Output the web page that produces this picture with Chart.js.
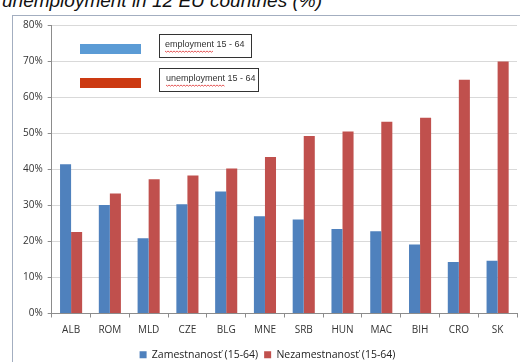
<!DOCTYPE html>
<html>
<head>
<meta charset="utf-8">
<script src="https://cdn.jsdelivr.net/npm/chart.js@4.4.1/dist/chart.umd.min.js"></script>
<style>
  html, body { margin: 0; padding: 0; background: #fff; }
  #wrap { position: relative; width: 520px; height: 362px; overflow: hidden; }
  #title { position: absolute; left: 2px; top: -10px; font: italic 19px "Liberation Sans", Arial, sans-serif; color: #111; white-space: nowrap; }
  #frame { position: absolute; left: 12px; top: 15px; width: 540px; height: 400px; border: 1.5px solid #a3aec0; box-sizing: border-box; }
  #chart { position: absolute; left: 0; top: 0; }
</style>
</head>
<body>
<div id="wrap">
  <div id="title">unemployment in 12 EU countries (%)</div>
  <div id="frame"></div>
  <canvas id="chart" width="520" height="362"></canvas>
</div>
<script>
const countries = ["ALB", "ROM", "MLD", "CZE", "BLG", "MNE", "SRB", "HUN", "MAC", "BIH", "CRO", "SK"];
const employment = [41.4, 30.1, 20.9, 30.3, 33.8, 27.0, 26.1, 23.4, 22.8, 19.1, 14.3, 14.6];
const unemployment = [22.6, 33.3, 37.2, 38.3, 40.2, 43.4, 49.2, 50.5, 53.2, 54.3, 64.8, 69.9];
const seriesNames = ["Zamestnanosť (15-64)", "Nezamestnanosť (15-64)"];
const insetLabels = ["employment 15 - 64", "unemployment 15 - 64"];

// the two boxed captions drawn inside the plot
const insetPlugin = {
  id: "inset",
  afterDraw(chart) {
    const ctx = chart.ctx;
    ctx.save();
    ctx.fillStyle = "#5b9bd5";
    ctx.fillRect(80, 44, 61, 10);
    ctx.fillStyle = "#cc3a12";
    ctx.fillRect(80, 78, 61, 10);

    ctx.strokeStyle = "#333";
    ctx.lineWidth = 1;
    ctx.fillStyle = "#fff";
    ctx.fillRect(159.5, 34.5, 92, 23);
    ctx.strokeRect(159.5, 34.5, 92, 23);
    ctx.fillRect(159.5, 68.5, 99, 23);
    ctx.strokeRect(159.5, 68.5, 99, 23);

    ctx.fillStyle = "#333";
    ctx.font = "9px 'Liberation Sans', Arial, sans-serif";
    ctx.textBaseline = "middle";
    ctx.fillText(insetLabels[0], 165, 45);
    ctx.fillText(insetLabels[1], 166, 79);

    // spell-check squiggles
    ctx.strokeStyle = "#e03030";
    ctx.lineWidth = 0.8;
    const squiggle = (x0, x1, y) => {
      ctx.beginPath();
      for (let x = x0, up = true; x <= x1; x += 1.5, up = !up) {
        ctx.lineTo(x, up ? y : y + 1.2);
      }
      ctx.stroke();
    };
    squiggle(165, 165 + ctx.measureText("employment").width, 51);
    squiggle(166, 166 + ctx.measureText("unemployment").width, 85);
    ctx.restore();
  }
};

new Chart(document.getElementById("chart"), {
  type: "bar",
  data: {
    labels: countries,
    datasets: [
      { label: seriesNames[0], data: employment, backgroundColor: "#4f81bd" },
      { label: seriesNames[1], data: unemployment, backgroundColor: "#c0504d" }
    ]
  },
  options: {
    responsive: false,
    animation: false,
    layout: { padding: { left: 18, right: 3, top: 25, bottom: -8 } },
    datasets: { bar: { categoryPercentage: 0.57, barPercentage: 1 } },
    scales: {
      x: {
        grid: { display: true, drawOnChartArea: false, offset: true, tickLength: 4, tickColor: "#8c8c8c" },
        border: { color: "#8c8c8c" },
        ticks: { color: "#333", font: { family: "'Open Sans', sans-serif", size: 10 }, padding: 7 }
      },
      y: {
        min: 0,
        max: 80,
        ticks: {
          stepSize: 10,
          color: "#333",
          font: { family: "'Open Sans', sans-serif", size: 10 },
          padding: 5,
          callback: v => v + "%"
        },
        grid: { color: "#d9d9d9", tickLength: 4, tickColor: "#8c8c8c" },
        border: { color: "#8c8c8c" }
      }
    },
    plugins: {
      legend: {
        position: "bottom",
        labels: {
          boxWidth: 7,
          boxHeight: 7,
          padding: 6,
          color: "#222",
          font: { family: "'Open Sans', sans-serif", size: 10.5 }
        }
      },
      tooltip: { enabled: false }
    }
  },
  plugins: [insetPlugin]
});
</script>
</body>
</html>
